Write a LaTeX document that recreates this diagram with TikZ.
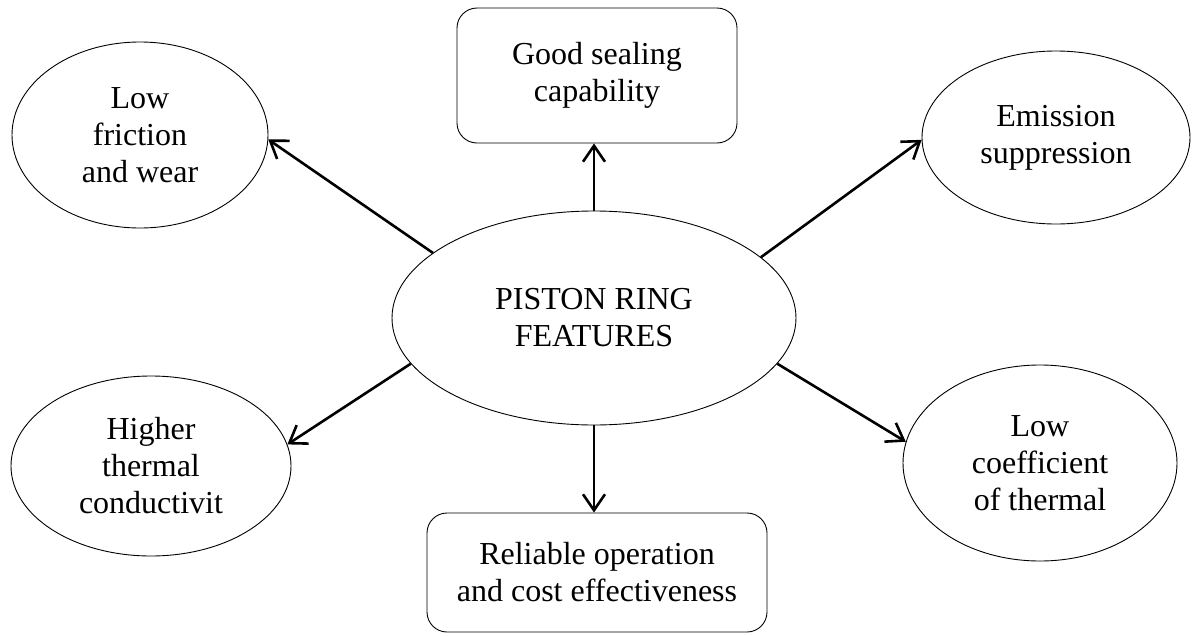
\documentclass[tikz,border=0pt]{standalone}
\usepackage{fontspec}
\setmainfont{Liberation Serif}
\usetikzlibrary{shapes.geometric,arrows.meta}
\begin{document}
\begin{tikzpicture}[x=1pt,y=-1pt,
  txt/.style={font=\fontsize{32}{37}\selectfont, align=center, inner sep=0pt},
  ell/.style={txt, draw, line width=0.9pt, ellipse},
  rbox/.style={txt, draw, line width=0.9pt, rounded corners=20pt},
  arr/.style={line width=2.6pt, -{Straight Barb[length=16pt,width=22pt,line width=2.6pt]}}]
\useasboundingbox (0,0) rectangle (1192,635);
\node[ell, minimum width=404pt, minimum height=214pt] (c) at (594,318) {PISTON RING\\FEATURES};
\node[rbox, minimum width=280pt, minimum height=135pt] (top) at (597,75.5) {Good sealing\\capability};
\node[rbox, minimum width=340pt, minimum height=119pt] (bot) at (597,572.5) {Reliable operation\\and cost effectiveness};
\node[ell, minimum width=256pt, minimum height=186pt] (tl) at (140,135) {Low\\friction\\and wear};
\node[ell, minimum width=268pt, minimum height=173pt] (tr) at (1056,137.5) {Emission\\suppression};
\node[ell, minimum width=280pt, minimum height=180pt] (bl) at (151,466) {Higher\\thermal\\conductivit};
\node[ell, minimum width=274pt, minimum height=196pt] (br) at (1040,463) {Low\\coefficient\\of thermal};
\draw[arr] (c.north) -- (c.north |- top.south);
\draw[arr] (c.south) -- (c.south |- bot.north);
\draw[arr] (c.158.6) -- (tl.-2.2);
\draw[arr] (c.20.7) -- (tr.181.5);
\draw[arr] (c.194.7) -- (bl.9.9);
\draw[arr] (c.-14.6) -- (br.171);
\end{tikzpicture}
\end{document}
